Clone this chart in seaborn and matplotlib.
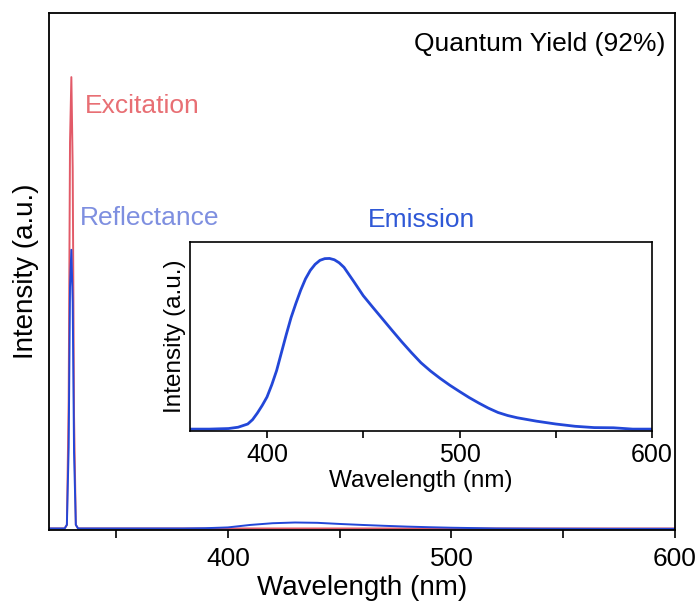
import numpy as np
import pandas as pd
import matplotlib
matplotlib.use("Agg")
import matplotlib.pyplot as plt
import seaborn as sns
from matplotlib.ticker import MultipleLocator

sns.set_style("white")
plt.rcParams['font.family'] = ['Liberation Sans', 'DejaVu Sans']
plt.rcParams['text.color'] = 'black'
plt.rcParams['axes.labelcolor'] = 'black'
plt.rcParams['xtick.color'] = 'black'

# Excitation scan (lamp only) around 330 nm
exc_wl = [320, 327, 328, 328.8, 329.4, 330, 330.6, 331.2, 332, 333, 340, 600]
exc_int = [0.003, 0.003, 0.01, 0.25, 0.75, 0.876, 0.70, 0.22, 0.01, 0.003, 0.003, 0.003]

# Sample scan: reflected excitation + weak emission
refl_wl = [320, 327, 328, 328.8, 329.4, 330, 330.6, 331.2, 332, 333, 380, 390,
           400, 410, 420, 430, 440, 450, 460, 470, 480, 490, 500, 510, 520,
           530, 540, 550, 560, 570, 580, 590, 600]
refl_int = [0.003, 0.003, 0.01, 0.16, 0.47, 0.542, 0.44, 0.15, 0.01, 0.003, 0.003, 0.0035,
            0.005, 0.0098, 0.0131, 0.0145, 0.0139, 0.0117, 0.0098, 0.0081, 0.0066, 0.0054,
            0.0044, 0.0037, 0.003, 0.0028, 0.0026, 0.0025, 0.0024, 0.0023, 0.0023, 0.0023, 0.0023]

# Emission spectrum (inset)
em_wl = [360, 370, 380, 385, 390, 392.5, 395, 397.5, 400, 402.5, 405, 407.5, 410, 412.5,
         415, 417.5, 420, 422.5, 425, 427.5, 430, 432.5, 435, 437.5, 440, 445,
         450, 455, 460, 465, 470, 475, 480, 485, 490, 495, 500, 505, 510, 515, 520,
         525, 530, 540, 550, 560, 570, 580, 590, 600]
em_int = [0.01, 0.01, 0.013, 0.02, 0.037, 0.06, 0.095, 0.135, 0.18, 0.245, 0.32, 0.415,
          0.51, 0.6, 0.675, 0.745, 0.805, 0.85, 0.882, 0.903, 0.912, 0.913, 0.906, 0.89,
          0.866, 0.792, 0.716, 0.654, 0.593, 0.532, 0.472, 0.415, 0.361, 0.317, 0.278,
          0.242, 0.209, 0.177, 0.148, 0.121, 0.098, 0.082, 0.07, 0.052, 0.037, 0.025,
          0.018, 0.017, 0.01, 0.01]

exc = pd.DataFrame({"wl": exc_wl, "I": exc_int})
refl = pd.DataFrame({"wl": refl_wl, "I": refl_int})
em = pd.DataFrame({"wl": em_wl, "I": em_int})

red = "#e25a68"
blue = "#2347d8"

fig = plt.figure(figsize=(6.96, 6.06), dpi=100)
ax = fig.add_axes([49 / 696, 1 - 530 / 606, (675 - 49) / 696, (530 - 13) / 606])

sns.lineplot(data=exc, x="wl", y="I", ax=ax, color=red, lw=1.4)
sns.lineplot(data=refl, x="wl", y="I", ax=ax, color=blue, lw=1.4)
ax.set_xlim(320, 600)
ax.set_ylim(0, 1.0)
ax.set_yticks([])
ax.xaxis.set_major_locator(MultipleLocator(100))
ax.xaxis.set_minor_locator(MultipleLocator(50))
ax.tick_params(axis="x", which="both", direction="out", bottom=True, length=6, width=1.2,
               labelsize=19, pad=6)
ax.set_xlabel("Wavelength (nm)", fontsize=20, labelpad=3)
ax.set_ylabel("Intensity (a.u.)", fontsize=20, labelpad=7)
for s in ax.spines.values():
    s.set_linewidth(1.3)
    s.set_color("black")

ax.text(0.985, 0.94, "Quantum Yield (92%)", transform=ax.transAxes, ha="right", va="center", fontsize=19)
ax.text(0.057, 0.82, "Excitation", transform=ax.transAxes, ha="left", va="center", fontsize=19, color="#e86f74")
ax.text(0.049, 0.603, "Reflectance", transform=ax.transAxes, ha="left", va="center", fontsize=19, color="#7e8fe0")

# inset with emission
axi = fig.add_axes([190 / 696, 1 - 431 / 606, (652 - 190) / 696, (431 - 242) / 606])
sns.lineplot(data=em, x="wl", y="I", ax=axi, color=blue, lw=2)
axi.set_xlim(360, 600)
axi.set_ylim(0, 1.0)
axi.set_yticks([])
axi.xaxis.set_major_locator(MultipleLocator(100))
axi.xaxis.set_minor_locator(MultipleLocator(50))
axi.tick_params(axis="x", which="both", direction="out", bottom=True, length=5, width=1.2, labelsize=18)
axi.set_xlabel("Wavelength (nm)", fontsize=17.5, labelpad=2)
axi.set_ylabel("Intensity (a.u.)", fontsize=17.5, labelpad=3)
axi.set_title("Emission", fontsize=19, color="#2f58d6", pad=11)
for s in axi.spines.values():
    s.set_linewidth(1.2)
    s.set_color("black")

fig.savefig("out.png", dpi=100)
